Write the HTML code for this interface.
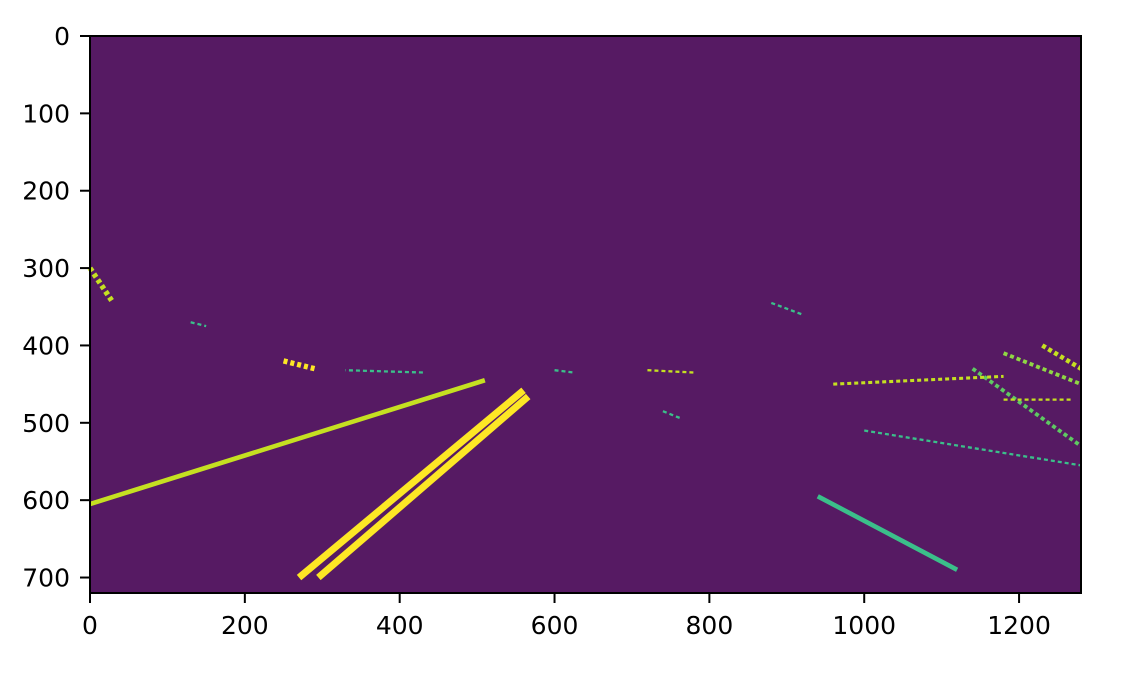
<!DOCTYPE html>
<html><head><meta charset="utf-8"><style>
html,body{margin:0;padding:0;background:#fff;}
svg text{font-family:"DejaVu Sans","Liberation Sans",sans-serif;font-size:25px;fill:#000;}
</style></head><body>
<svg id="chart" width="1130" height="694" viewBox="0 0 1130 694" xmlns="http://www.w3.org/2000/svg">
<rect x="90" y="36" width="991" height="557" fill="#561a63"/>
<g id="marks"></g>
<rect x="90" y="36" width="991" height="557" fill="none" stroke="#000" stroke-width="2"/>
<g id="axes"></g>
</svg>
<script>
const xTicks=[0,200,400,600,800,1000,1200];
const yTicks=[0,100,200,300,400,500,600,700];
// edge segments in image coords
const segStart=[[270,700],[295,700],[0,605],[940,595],[1230,400],[1180,410],[1140,430],[960,450],[1000,510],[0,300],[250,420],[130,370],[430,435],[720,432],[600,432],[880,345],[1180,470],[740,485]];
const segEnd=[[560,458],[566,466],[510,445],[1120,690],[1280,430],[1280,450],[1280,530],[1180,440],[1280,555],[30,345],[290,430],[150,375],[330,432],[780,435],[625,435],[920,360],[1270,470],[765,495]];
const segWidth=[9,9,6,6,6,5,5,4,3,7,7,3,3,3,3,3,3,3];
const segColor=['#fde725','#fde725','#c5e021','#3bbf8a','#c5e021','#8fd744','#5ec962','#c5e021','#3bbf8a','#c5e021','#fde725','#3bbf8a','#3bbf8a','#c5e021','#3bbf8a','#3bbf8a','#c5e021','#3bbf8a'];
const x=v=>90+v*991/1280, y=v=>36+v*557/720;
const NS='http://www.w3.org/2000/svg';
const m=document.getElementById('marks'), a=document.getElementById('axes');
segStart.forEach((s,i)=>{const e=segEnd[i];const l=document.createElementNS(NS,'line');
l.setAttribute('x1',x(s[0]));l.setAttribute('y1',y(s[1]));l.setAttribute('x2',x(e[0]));l.setAttribute('y2',y(e[1]));
l.setAttribute('stroke',segColor[i]);l.setAttribute('stroke-width',segWidth[i]*0.77);l.setAttribute('stroke-dasharray',i<4?'none':'4 3');


m.appendChild(l);});
xTicks.forEach(v=>{const t=document.createElementNS(NS,'line');t.setAttribute('x1',x(v));t.setAttribute('x2',x(v));t.setAttribute('y1',593);t.setAttribute('y2',603);t.setAttribute('stroke','#000');t.setAttribute('stroke-width',2);


a.appendChild(t);
const tx=document.createElementNS(NS,'text');tx.setAttribute('x',x(v));tx.setAttribute('y',634);tx.setAttribute('text-anchor','middle');tx.textContent=v;


a.appendChild(tx);});
yTicks.forEach(v=>{const t=document.createElementNS(NS,'line');t.setAttribute('x1',80);t.setAttribute('x2',90);t.setAttribute('y1',y(v));t.setAttribute('y2',y(v));t.setAttribute('stroke','#000');t.setAttribute('stroke-width',2);


a.appendChild(t);
const tx=document.createElementNS(NS,'text');tx.setAttribute('x',70);tx.setAttribute('y',y(v)+9);tx.setAttribute('text-anchor','end');tx.textContent=v;


a.appendChild(tx);});
</script>
</body></html>
